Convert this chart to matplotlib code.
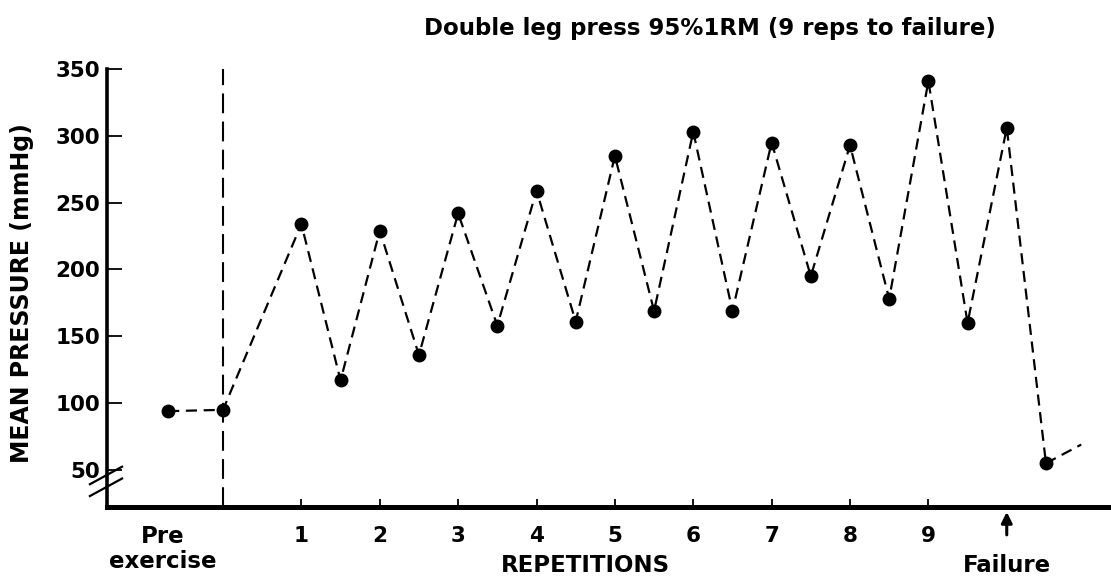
import matplotlib.pyplot as plt
from matplotlib.lines import Line2D

plt.rcParams['font.family'] = ['DejaVu Sans']
plt.rcParams['font.weight'] = 'bold'

# mean pressure during double leg press, peaks on each rep and troughs between reps
pre_x = [-0.7]
pre_y = [94]
rep_x = [0, 1, 1.5, 2, 2.5, 3, 3.5, 4, 4.5, 5, 5.5, 6, 6.5, 7, 7.5, 8, 8.5, 9, 9.5, 10, 10.5]
rep_y = [95, 234, 117, 229, 136, 242, 158, 259, 161, 285, 169, 303, 169, 295, 195, 293, 178, 341, 160, 306, 55]
# recovery trend after the last point
tail_x = [10.5, 10.95]
tail_y = [55, 69]

xticks = list(range(0, 10))
xtick_labels = [''] + [str(i) for i in range(1, 10)]
yticks = [50, 100, 150, 200, 250, 300, 350]
failure_x = 10

fig = plt.figure(figsize=(11.11, 5.78), dpi=100)
ax = fig.add_axes([107 / 1111, 71 / 578, 1004 / 1111, 438 / 578])

x_all = pre_x + rep_x
y_all = pre_y + rep_y
ax.plot(x_all, y_all, color='black', linestyle=(0, (5, 3)), linewidth=1.6,
        marker='o', markersize=9, clip_on=False, zorder=3)
ax.plot(tail_x, tail_y, color='black', linestyle=(0, (5, 3)), linewidth=1.6, clip_on=False)

# start of exercise
ax.axvline(0, color='black', linestyle=(0, (9.5, 4)), linewidth=1.5, zorder=2)

ax.set_xlim(-1.48, 11.33)
ax.set_ylim(22.3, 350)

for side in ['top', 'right']:
    ax.spines[side].set_visible(False)
ax.spines['left'].set_linewidth(2.6)
ax.spines['bottom'].set_linewidth(3.6)

ax.set_yticks(yticks)
ax.set_yticklabels([str(v) for v in yticks], fontsize=15.5, fontweight='bold')
ax.tick_params(axis='y', direction='in', length=11, width=1.3, pad=5)
ax.set_xticks(xticks)
ax.set_xticklabels(xtick_labels, fontsize=15.5, fontweight='bold')
ax.tick_params(axis='x', direction='in', length=6, width=1.3, pad=14)

xt = ax.get_xaxis_transform()
ax.text(-0.77, -0.096, 'Pre\nexercise', transform=xt,
        ha='center', va='center', fontsize=16.5, fontweight='bold', linespacing=1.1)
ax.text(4.63, -0.134, 'REPETITIONS', transform=xt,
        ha='center', va='center', fontsize=16.5, fontweight='bold')
ax.text(failure_x, -0.134, 'Failure', transform=xt,
        ha='center', va='center', fontsize=16.5, fontweight='bold')
ax.annotate('', xy=(failure_x, -0.005), xytext=(failure_x, -0.07), xycoords=xt,
            arrowprops=dict(arrowstyle='-|>', color='black', lw=2.2, mutation_scale=16))

# axis break marks on the y axis
for y0 in [0.072, 0.045]:
    ax.add_line(Line2D([-0.017, 0.015], [y0 - 0.02, y0 + 0.02], transform=ax.transAxes,
                       color='black', linewidth=1.6, clip_on=False))

fig.text(22 / 1111, 1 - 293 / 578, 'MEAN PRESSURE (mmHg)', rotation=90,
         ha='center', va='center', fontsize=17, fontweight='bold')
fig.text(710 / 1111, 1 - 28 / 578, 'Double leg press 95%1RM (9 reps to failure)',
         ha='center', va='center', fontsize=16.5, fontweight='bold')

fig.savefig('out.png', dpi=100)
